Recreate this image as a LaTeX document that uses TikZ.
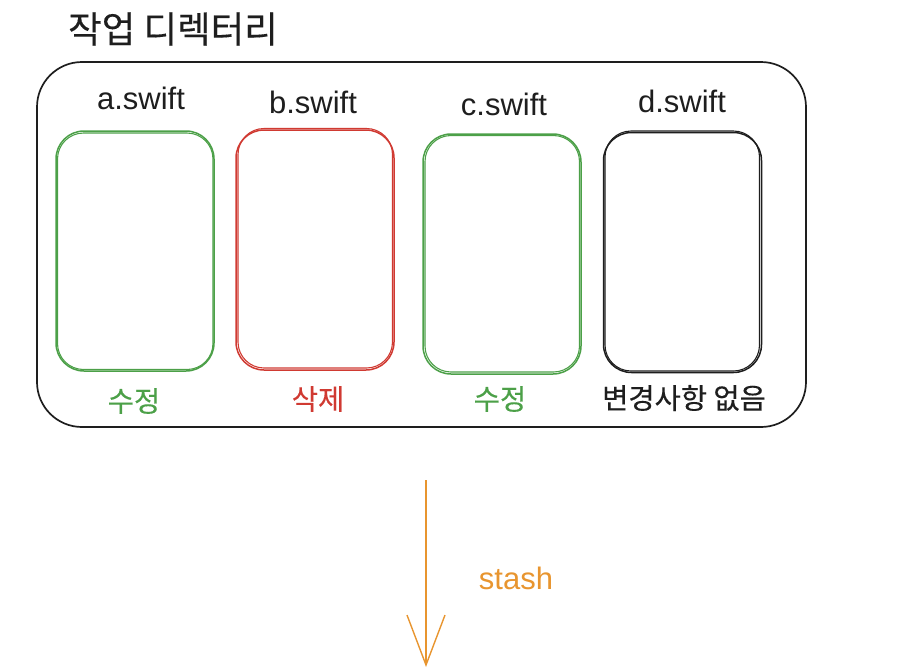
\documentclass[tikz,border=0pt]{standalone}
\usepackage{fontspec}
\setmainfont{Liberation Sans}
\newfontfamily\kr[FakeBold=0.25]{Noto Sans CJK KR}
\usetikzlibrary{arrows.meta}
\definecolor{ink}{RGB}{30,30,30}
\definecolor{modgreen}{RGB}{76,160,72}
\definecolor{delred}{RGB}{208,58,50}
\definecolor{stashorange}{RGB}{232,149,47}

\begin{document}
\begin{tikzpicture}[x=1pt,y=-1pt,
  every node/.style={outer sep=0pt},
  file/.style={draw=#1, rounded corners=28pt, minimum width=158pt, minimum height=240pt, line width=1.5pt, inner sep=0pt},
  sketch/.style={draw=#1, rounded corners=26pt, line width=1.1pt},
  fname/.style={text=ink, font=\fontsize{31}{34}\selectfont},
  state/.style={text=#1, font=\kr\fontsize{28.5}{32}\selectfont}]
\useasboundingbox (0,0) rectangle (898,670);

\node[text=ink, font=\kr\fontsize{36.5}{40}\selectfont] (title) at (173,29) {작업 디렉터리};
\node[draw=ink, line width=1.7pt, rounded corners=45pt, minimum width=769pt, minimum height=365pt] (workdir) at (421.5,244.5) {};

\node[file=modgreen] (afile) at (135,251) {};
\node[file=delred] (bfile) at (315,250) {};
\node[file=modgreen] (cfile) at (502,254) {};
\node[file=ink] (dfile) at (682.5,252.5) {};

% second stroke for the hand drawn look
\draw[sketch=modgreen] ([shift={(1.5,2)}]afile.north west) rectangle ([shift={(-1,-1.5)}]afile.south east);
\draw[sketch=delred] ([shift={(2,-1.5)}]bfile.north west) rectangle ([shift={(-1.5,-2)}]bfile.south east);
\draw[sketch=modgreen] ([shift={(2,1.5)}]cfile.north west) rectangle ([shift={(-1.5,-2)}]cfile.south east);
\draw[sketch=ink] ([shift={(1.5,-1.5)}]dfile.north west) rectangle ([shift={(-2,-1.5)}]dfile.south east);

\node[fname] (aname) at (141,98) {a.swift};
\node[fname] (bname) at (313,102) {b.swift};
\node[fname] (cname) at (504,104) {c.swift};
\node[fname] (dname) at (682,101) {d.swift};

\node[state=modgreen] (astate) at (134,401) {수정};
\node[state=delred] (bstate) at (318,399) {삭제};
\node[state=modgreen] (cstate) at (500,399) {수정};
\node[state=ink] (dstate) at (684,398) {변경사항 없음};

\coordinate (stashtop) at (426,480);
\coordinate (stashend) at (426,667);
\draw[stashorange, line width=1.4pt, -{Straight Barb[length=50pt, width=38pt]}] (stashtop) -- (stashend);
\node[text=stashorange, font=\fontsize{31}{34}\selectfont] (stashlabel) at (516,578) {stash};
\end{tikzpicture}
\end{document}
